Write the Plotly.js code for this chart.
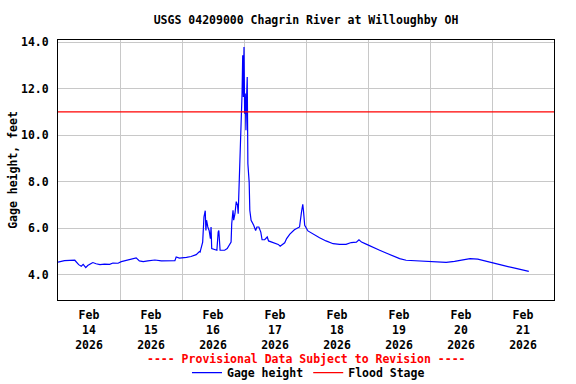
<!DOCTYPE html>
<html>
<head>
<meta charset="utf-8">
<script src="https://cdn.plot.ly/plotly-3.0.1.min.js"></script>
<style>html,body{margin:0;padding:0;background:#fff;}#chart{width:576px;height:384px;}</style>
</head>
<body>
<div id="chart"></div>
<script>
// ---- data ----
var times = [
 "2026-02-14 00:00","2026-02-14 02:30","2026-02-14 06:30","2026-02-14 07:00","2026-02-14 08:00","2026-02-14 09:00",
 "2026-02-14 09:45","2026-02-14 10:45","2026-02-14 11:30","2026-02-14 13:00","2026-02-14 13:30","2026-02-14 14:45",
 "2026-02-14 16:15","2026-02-14 18:00","2026-02-14 20:00","2026-02-14 21:15","2026-02-14 23:15","2026-02-15 00:30",
 "2026-02-15 02:30","2026-02-15 05:00","2026-02-15 06:15","2026-02-15 07:30","2026-02-15 09:00","2026-02-15 10:45",
 "2026-02-15 13:30","2026-02-15 16:00","2026-02-15 18:30","2026-02-15 21:15","2026-02-15 21:45","2026-02-15 23:00",
 "2026-02-16 01:45","2026-02-16 03:30","2026-02-16 05:30","2026-02-16 06:45","2026-02-16 07:00","2026-02-16 08:00",
 "2026-02-16 08:30","2026-02-16 09:00","2026-02-16 09:15","2026-02-16 09:30","2026-02-16 10:00","2026-02-16 10:30",
 "2026-02-16 11:00","2026-02-16 11:15","2026-02-16 11:30","2026-02-16 12:45","2026-02-16 13:30","2026-02-16 14:00",
 "2026-02-16 14:15","2026-02-16 14:45","2026-02-16 16:30","2026-02-16 17:30","2026-02-16 18:30","2026-02-16 19:00",
 "2026-02-16 19:15","2026-02-16 19:45","2026-02-16 20:00","2026-02-16 20:30","2026-02-16 21:00","2026-02-16 21:30",
 "2026-02-16 21:45","2026-02-16 22:00","2026-02-16 22:30","2026-02-16 22:45","2026-02-16 23:15","2026-02-16 23:30",
 "2026-02-16 23:45","2026-02-17 00:00","2026-02-17 00:15","2026-02-17 00:30","2026-02-17 00:45","2026-02-17 01:00",
 "2026-02-17 01:15","2026-02-17 01:30","2026-02-17 02:00","2026-02-17 02:15","2026-02-17 02:45","2026-02-17 03:45",
 "2026-02-17 04:30","2026-02-17 05:00","2026-02-17 05:45","2026-02-17 06:30","2026-02-17 07:00","2026-02-17 08:00",
 "2026-02-17 09:00","2026-02-17 09:30","2026-02-17 11:15","2026-02-17 13:15","2026-02-17 14:00","2026-02-17 15:45",
 "2026-02-17 16:30","2026-02-17 17:45","2026-02-17 19:30","2026-02-17 21:30","2026-02-17 22:15","2026-02-17 22:45",
 "2026-02-17 23:00","2026-02-17 23:30","2026-02-18 00:45","2026-02-18 02:45","2026-02-18 05:15","2026-02-18 07:45",
 "2026-02-18 10:30","2026-02-18 13:00","2026-02-18 15:30","2026-02-18 17:30","2026-02-18 19:30","2026-02-18 20:30",
 "2026-02-18 21:30","2026-02-18 23:30","2026-02-19 02:00","2026-02-19 04:30","2026-02-19 07:00","2026-02-19 09:45",
 "2026-02-19 12:15","2026-02-19 14:45","2026-02-19 18:45","2026-02-19 22:30","2026-02-20 02:30","2026-02-20 06:15",
 "2026-02-20 09:30","2026-02-20 12:15","2026-02-20 15:30","2026-02-20 18:30","2026-02-20 21:45","2026-02-21 01:00",
 "2026-02-21 04:15","2026-02-21 08:00","2026-02-21 12:00","2026-02-21 14:15"
];
var gageHeight = [
 4.54,4.60,4.62,4.54,4.43,4.36,
 4.44,4.30,4.39,4.49,4.52,4.47,
 4.43,4.45,4.44,4.50,4.49,4.56,
 4.61,4.66,4.72,4.59,4.56,4.59,
 4.63,4.59,4.59,4.60,4.76,4.71,
 4.74,4.78,4.86,4.99,4.97,5.40,
 6.48,6.75,5.90,6.34,6.05,5.90,
 5.55,6.05,5.12,5.08,5.05,5.83,
 5.90,5.05,5.05,5.12,5.33,5.40,
 6.19,6.77,6.34,6.62,7.14,6.98,
 6.62,7.53,8.49,10.45,11.79,13.43,
 11.64,13.79,10.92,11.79,10.21,11.64,
 12.50,8.77,7.98,6.77,6.34,6.12,
 5.90,6.05,6.05,5.83,5.50,5.50,
 5.62,5.45,5.37,5.30,5.22,5.37,
 5.55,5.74,5.93,6.05,6.69,7.02,
 6.77,6.12,5.88,5.74,5.59,5.45,
 5.33,5.30,5.30,5.38,5.40,5.50,
 5.40,5.30,5.19,5.05,4.93,4.79,
 4.69,4.62,4.60,4.60,4.55,4.53,
 4.57,4.64,4.69,4.67,4.59,4.50,
 4.40,4.30,4.21,4.14
];
var floodStage = 11.0;
var floodTimes = ["2026-02-14 00:00","2026-02-22 00:00"];
var tickDates = ["2026-02-14 12:00","2026-02-15 12:00","2026-02-16 12:00","2026-02-17 12:00",
                 "2026-02-18 12:00","2026-02-19 12:00","2026-02-20 12:00","2026-02-21 12:00"];
var tickLabels = ["Feb<br>14<br>2026","Feb<br>15<br>2026","Feb<br>16<br>2026","Feb<br>17<br>2026",
                  "Feb<br>18<br>2026","Feb<br>19<br>2026","Feb<br>20<br>2026","Feb<br>21<br>2026"];
var yTicks = [4, 6, 8, 10, 12, 14];

var FONT = {family: "'DejaVu Sans Mono', monospace", size: 11.5, color: "#000", weight: "bold"};

var traces = [
  {x: times, y: gageHeight, type: "scatter", mode: "lines", name: "Gage height",
   line: {color: "#0000ff", width: 1.2}},
  {x: floodTimes, y: [floodStage, floodStage], type: "scatter", mode: "lines", name: "Flood Stage",
   line: {color: "#ff0000", width: 1.2}}
];

var layout = {
  width: 576, height: 384,
  margin: {l: 58, r: 22, t: 40, b: 84, autoexpand: false},
  paper_bgcolor: "#fff", plot_bgcolor: "#fff",
  font: FONT,
  title: {text: "USGS 04209000 Chagrin River at Willoughby OH", font: FONT,
          x: 0.5, xref: "paper", xanchor: "center", y: 1 - 20/384, yref: "container", yanchor: "middle"},
  xaxis: {
    type: "date", range: ["2026-02-14 00:00", "2026-02-22 00:00"], automargin: false,
    tickmode: "array", tickvals: tickDates, ticktext: tickLabels,
    showgrid: false, ticks: "", tickfont: FONT, ticklabelstandoff: 4,
    showline: true, mirror: true, linecolor: "#000", linewidth: 1,
    zeroline: false, fixedrange: true,
    minor: {showgrid: true, gridcolor: "#c8c8c8", gridwidth: 1, dtick: 86400000, tick0: "2026-02-14", ticks: ""}
  },
  yaxis: {
    range: [2.91, 14.09], tickmode: "array", tickvals: yTicks, tickformat: ".1f", automargin: false,
    showgrid: true, gridcolor: "#c8c8c8", gridwidth: 1, ticks: "", tickfont: FONT,
    ticklabelstandoff: 6,
    showline: true, mirror: true, linecolor: "#000", linewidth: 1, zeroline: false,
    title: {text: "Gage height, feet", font: FONT, standoff: 0}
  },
  showlegend: true,
  legend: {orientation: "h", x: 0.505, xanchor: "center", xref: "paper",
           y: 1 - 372.7/384, yanchor: "middle", yref: "container",
           font: FONT, bgcolor: "rgba(0,0,0,0)", itemwidth: 30, tracegroupgap: 0},
  annotations: [
    {text: "---- Provisional Data Subject to Revision ----", xref: "paper", yref: "paper",
     x: 0.5, y: -(359 - 300) / 260, xanchor: "center", yanchor: "middle", showarrow: false,
     font: {family: FONT.family, size: FONT.size, color: "#ff0000", weight: "bold"}}
  ]
};

Plotly.newPlot("chart", traces, layout, {staticPlot: true, displayModeBar: false});
</script>
</body>
</html>
